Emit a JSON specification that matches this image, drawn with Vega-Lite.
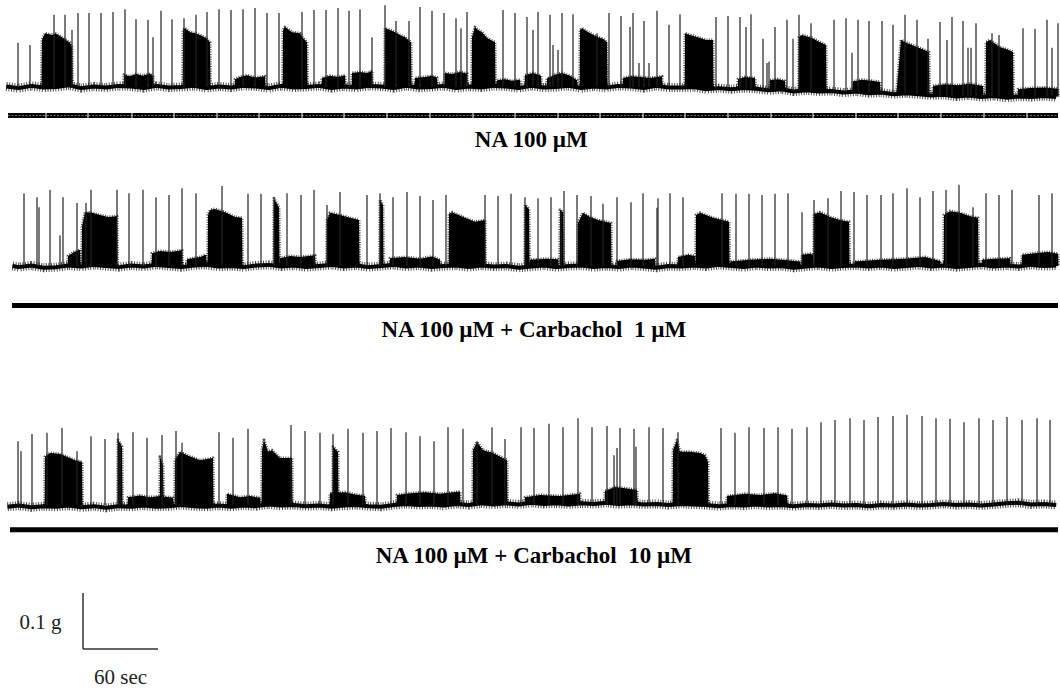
{
  "$schema": "https://vega.github.io/schema/vega-lite/v6.json",
  "padding": 0,
  "spacing": 0,
  "bounds": "flush",
  "background": "white",
  "config": {"view": {"stroke": null}, "axis": {"disable": true}},
  "datasets": {
    "baseline": [
      {"tr":1,"t":5,"v":0.001},{"tr":1,"t":15,"v":-0.002},{"tr":1,"t":25,"v":0.002},{"tr":1,"t":35,"v":-0.001},{"tr":1,"t":45,"v":0.0},{"tr":1,"t":55,"v":0.003},{"tr":1,"t":65,"v":-0.002},{"tr":1,"t":75,"v":0.001},{"tr":1,"t":85,"v":-0.001},{"tr":1,"t":95,"v":0.002},
      {"tr":1,"t":105,"v":0.001},{"tr":1,"t":115,"v":-0.002},{"tr":1,"t":125,"v":0.002},{"tr":1,"t":135,"v":-0.001},{"tr":1,"t":145,"v":0.0},{"tr":1,"t":155,"v":0.002},{"tr":1,"t":165,"v":-0.002},{"tr":1,"t":175,"v":0.001},{"tr":1,"t":185,"v":-0.001},{"tr":1,"t":195,"v":0.002},
      {"tr":1,"t":205,"v":0.001},{"tr":1,"t":215,"v":-0.002},{"tr":1,"t":225,"v":0.002},{"tr":1,"t":235,"v":-0.001},{"tr":1,"t":245,"v":0.0},{"tr":1,"t":255,"v":0.002},{"tr":1,"t":265,"v":-0.002},{"tr":1,"t":275,"v":0.001},{"tr":1,"t":285,"v":-0.001},{"tr":1,"t":295,"v":0.002},
      {"tr":1,"t":305,"v":0.001},{"tr":1,"t":315,"v":-0.002},{"tr":1,"t":325,"v":0.002},{"tr":1,"t":335,"v":-0.001},{"tr":1,"t":345,"v":0.0},{"tr":1,"t":355,"v":0.002},{"tr":1,"t":365,"v":-0.002},{"tr":1,"t":375,"v":0.001},{"tr":1,"t":385,"v":-0.001},{"tr":1,"t":395,"v":0.002},
      {"tr":1,"t":405,"v":0.001},{"tr":1,"t":415,"v":-0.002},{"tr":1,"t":425,"v":0.002},{"tr":1,"t":435,"v":-0.001},{"tr":1,"t":445,"v":0.0},{"tr":1,"t":455,"v":0.002},{"tr":1,"t":465,"v":-0.002},{"tr":1,"t":475,"v":0.001},{"tr":1,"t":485,"v":-0.001},{"tr":1,"t":495,"v":0.002},
      {"tr":1,"t":505,"v":0.001},{"tr":1,"t":515,"v":-0.002},{"tr":1,"t":525,"v":0.002},{"tr":1,"t":535,"v":-0.001},{"tr":1,"t":545,"v":-0.001},{"tr":1,"t":555,"v":0.0},{"tr":1,"t":565,"v":-0.004},{"tr":1,"t":575,"v":-0.002},{"tr":1,"t":585,"v":-0.004},{"tr":1,"t":595,"v":-0.002},
      {"tr":1,"t":605,"v":-0.003},{"tr":1,"t":615,"v":-0.006},{"tr":1,"t":625,"v":-0.004},{"tr":1,"t":635,"v":-0.008},{"tr":1,"t":645,"v":-0.006},{"tr":1,"t":655,"v":-0.008},{"tr":1,"t":665,"v":-0.007},{"tr":1,"t":675,"v":-0.01},{"tr":1,"t":685,"v":-0.008},{"tr":1,"t":695,"v":-0.011},
      {"tr":1,"t":705,"v":-0.01},{"tr":1,"t":715,"v":-0.013},{"tr":1,"t":725,"v":-0.011},{"tr":1,"t":735,"v":-0.013},{"tr":1,"t":745,"v":-0.015},{"tr":1,"t":755,"v":-0.014},{"tr":1,"t":765,"v":-0.017},{"tr":1,"t":775,"v":-0.015},{"tr":1,"t":785,"v":-0.018},{"tr":1,"t":795,"v":-0.016},
      {"tr":1,"t":805,"v":-0.019},{"tr":1,"t":815,"v":-0.017},{"tr":1,"t":825,"v":-0.018},{"tr":1,"t":835,"v":-0.016},{"tr":1,"t":845,"v":-0.018},

      {"tr":2,"t":10,"v":0.0},{"tr":2,"t":15,"v":-0.002},{"tr":2,"t":25,"v":0.001},{"tr":2,"t":35,"v":-0.003},{"tr":2,"t":45,"v":-0.002},{"tr":2,"t":55,"v":0.001},{"tr":2,"t":65,"v":-0.001},{"tr":2,"t":75,"v":0.002},{"tr":2,"t":85,"v":0.0},{"tr":2,"t":95,"v":-0.002},
      {"tr":2,"t":105,"v":0.001},{"tr":2,"t":115,"v":-0.001},{"tr":2,"t":125,"v":0.002},{"tr":2,"t":135,"v":0.0},{"tr":2,"t":145,"v":-0.002},{"tr":2,"t":155,"v":0.001},{"tr":2,"t":165,"v":0.002},{"tr":2,"t":175,"v":-0.001},{"tr":2,"t":185,"v":0.0},{"tr":2,"t":195,"v":-0.002},
      {"tr":2,"t":205,"v":0.001},{"tr":2,"t":215,"v":0.002},{"tr":2,"t":225,"v":-0.001},{"tr":2,"t":235,"v":0.001},{"tr":2,"t":245,"v":-0.002},{"tr":2,"t":255,"v":0.0},{"tr":2,"t":265,"v":0.002},{"tr":2,"t":275,"v":-0.001},{"tr":2,"t":285,"v":0.001},{"tr":2,"t":295,"v":-0.002},
      {"tr":2,"t":305,"v":0.0},{"tr":2,"t":315,"v":0.002},{"tr":2,"t":325,"v":-0.001},{"tr":2,"t":335,"v":0.001},{"tr":2,"t":345,"v":-0.002},{"tr":2,"t":355,"v":0.0},{"tr":2,"t":365,"v":0.001},{"tr":2,"t":375,"v":-0.002},{"tr":2,"t":385,"v":0.001},{"tr":2,"t":395,"v":-0.001},
      {"tr":2,"t":405,"v":0.0},{"tr":2,"t":415,"v":-0.003},{"tr":2,"t":425,"v":-0.001},{"tr":2,"t":435,"v":0.001},{"tr":2,"t":445,"v":-0.002},{"tr":2,"t":455,"v":0.0},{"tr":2,"t":465,"v":0.001},{"tr":2,"t":475,"v":-0.002},{"tr":2,"t":485,"v":0.0},{"tr":2,"t":495,"v":-0.002},
      {"tr":2,"t":505,"v":0.001},{"tr":2,"t":515,"v":-0.001},{"tr":2,"t":525,"v":-0.003},{"tr":2,"t":535,"v":0.0},{"tr":2,"t":545,"v":-0.001},{"tr":2,"t":555,"v":0.001},{"tr":2,"t":565,"v":-0.001},{"tr":2,"t":575,"v":0.002},{"tr":2,"t":585,"v":0.0},{"tr":2,"t":595,"v":-0.002},
      {"tr":2,"t":605,"v":0.001},{"tr":2,"t":615,"v":-0.001},{"tr":2,"t":625,"v":0.0},{"tr":2,"t":635,"v":-0.003},{"tr":2,"t":645,"v":-0.001},{"tr":2,"t":655,"v":0.001},{"tr":2,"t":665,"v":-0.002},{"tr":2,"t":675,"v":0.0},{"tr":2,"t":685,"v":0.001},{"tr":2,"t":695,"v":-0.001},
      {"tr":2,"t":705,"v":0.001},{"tr":2,"t":715,"v":-0.002},{"tr":2,"t":725,"v":0.0},{"tr":2,"t":735,"v":0.002},{"tr":2,"t":745,"v":-0.001},{"tr":2,"t":755,"v":0.001},{"tr":2,"t":765,"v":-0.002},{"tr":2,"t":775,"v":0.0},{"tr":2,"t":785,"v":0.002},{"tr":2,"t":795,"v":-0.001},
      {"tr":2,"t":805,"v":0.001},{"tr":2,"t":815,"v":-0.001},{"tr":2,"t":825,"v":0.002},{"tr":2,"t":835,"v":0.0},{"tr":2,"t":845,"v":0.001},

      {"tr":3,"t":6,"v":-0.003},{"tr":3,"t":15,"v":-0.001},{"tr":3,"t":25,"v":-0.004},{"tr":3,"t":35,"v":-0.002},{"tr":3,"t":45,"v":-0.003},{"tr":3,"t":55,"v":-0.001},{"tr":3,"t":65,"v":-0.004},{"tr":3,"t":75,"v":-0.002},{"tr":3,"t":85,"v":-0.005},{"tr":3,"t":95,"v":-0.002},
      {"tr":3,"t":105,"v":-0.003},{"tr":3,"t":115,"v":-0.001},{"tr":3,"t":125,"v":-0.003},{"tr":3,"t":135,"v":-0.002},{"tr":3,"t":145,"v":0.0},{"tr":3,"t":155,"v":-0.002},{"tr":3,"t":165,"v":-0.003},{"tr":3,"t":175,"v":-0.001},{"tr":3,"t":185,"v":-0.003},{"tr":3,"t":195,"v":-0.001},
      {"tr":3,"t":205,"v":-0.002},{"tr":3,"t":215,"v":0.001},{"tr":3,"t":225,"v":-0.001},{"tr":3,"t":235,"v":0.0},{"tr":3,"t":245,"v":-0.002},{"tr":3,"t":255,"v":-0.001},{"tr":3,"t":265,"v":-0.003},{"tr":3,"t":275,"v":-0.001},{"tr":3,"t":285,"v":0.0},{"tr":3,"t":295,"v":-0.002},
      {"tr":3,"t":305,"v":-0.003},{"tr":3,"t":315,"v":0.0},{"tr":3,"t":325,"v":0.002},{"tr":3,"t":335,"v":0.0},{"tr":3,"t":345,"v":0.001},{"tr":3,"t":355,"v":-0.001},{"tr":3,"t":365,"v":0.002},{"tr":3,"t":375,"v":0.0},{"tr":3,"t":385,"v":0.003},{"tr":3,"t":395,"v":0.001},
      {"tr":3,"t":405,"v":0.003},{"tr":3,"t":415,"v":0.001},{"tr":3,"t":425,"v":0.004},{"tr":3,"t":435,"v":0.002},{"tr":3,"t":445,"v":0.003},{"tr":3,"t":455,"v":0.001},{"tr":3,"t":465,"v":0.003},{"tr":3,"t":475,"v":0.002},{"tr":3,"t":485,"v":0.004},{"tr":3,"t":495,"v":0.002},
      {"tr":3,"t":505,"v":0.003},{"tr":3,"t":515,"v":0.001},{"tr":3,"t":525,"v":0.002},{"tr":3,"t":535,"v":0.0},{"tr":3,"t":545,"v":0.002},{"tr":3,"t":555,"v":0.001},{"tr":3,"t":565,"v":0.0},{"tr":3,"t":575,"v":-0.002},{"tr":3,"t":585,"v":0.0},{"tr":3,"t":595,"v":-0.001},
      {"tr":3,"t":605,"v":0.001},{"tr":3,"t":615,"v":-0.001},{"tr":3,"t":625,"v":0.0},{"tr":3,"t":635,"v":-0.002},{"tr":3,"t":645,"v":0.0},{"tr":3,"t":655,"v":-0.001},{"tr":3,"t":665,"v":0.001},{"tr":3,"t":675,"v":-0.001},{"tr":3,"t":685,"v":0.0},{"tr":3,"t":695,"v":-0.002},
      {"tr":3,"t":705,"v":0.0},{"tr":3,"t":715,"v":-0.001},{"tr":3,"t":725,"v":0.001},{"tr":3,"t":735,"v":-0.001},{"tr":3,"t":745,"v":0.0},{"tr":3,"t":755,"v":0.002},{"tr":3,"t":765,"v":0.0},{"tr":3,"t":775,"v":0.001},{"tr":3,"t":785,"v":-0.001},{"tr":3,"t":795,"v":0.001},
      {"tr":3,"t":805,"v":0.003},{"tr":3,"t":815,"v":0.004},{"tr":3,"t":825,"v":0.001},{"tr":3,"t":835,"v":0.002},{"tr":3,"t":845,"v":0.0}
    ],
    "bursts": [
      {"tr":1,"id":"a1","t":33.2,"lo":0,"hi":0},{"tr":1,"id":"a1","t":33.6,"lo":0,"hi":0.084},{"tr":1,"id":"a1","t":36,"lo":0,"hi":0.096},{"tr":1,"id":"a1","t":41.6,"lo":0,"hi":0.093},{"tr":1,"id":"a1","t":44.8,"lo":0,"hi":0.095},{"tr":1,"id":"a1","t":48,"lo":0,"hi":0.091},{"tr":1,"id":"a1","t":52.8,"lo":0,"hi":0.084},{"tr":1,"id":"a1","t":56,"lo":0,"hi":0.079},{"tr":1,"id":"a1","t":57.6,"lo":0,"hi":0.071},{"tr":1,"id":"a1","t":58,"lo":0,"hi":0},
      {"tr":1,"id":"a2","t":99,"lo":0,"hi":0},{"tr":1,"id":"a2","t":99.2,"lo":0,"hi":0.022},{"tr":1,"id":"a2","t":104,"lo":0,"hi":0.019},{"tr":1,"id":"a2","t":108.8,"lo":0,"hi":0.023},{"tr":1,"id":"a2","t":114.4,"lo":0,"hi":0.02},{"tr":1,"id":"a2","t":120,"lo":0,"hi":0.024},{"tr":1,"id":"a2","t":122.4,"lo":0,"hi":0.019},{"tr":1,"id":"a2","t":122.8,"lo":0,"hi":0},
      {"tr":1,"id":"a3","t":146.2,"lo":0,"hi":0},{"tr":1,"id":"a3","t":146.4,"lo":0,"hi":0.102},{"tr":1,"id":"a3","t":148,"lo":0,"hi":0.105},{"tr":1,"id":"a3","t":152,"lo":0,"hi":0.098},{"tr":1,"id":"a3","t":156,"lo":0,"hi":0.096},{"tr":1,"id":"a3","t":160,"lo":0,"hi":0.093},{"tr":1,"id":"a3","t":164.8,"lo":0,"hi":0.0875},{"tr":1,"id":"a3","t":168,"lo":0,"hi":0.08},{"tr":1,"id":"a3","t":168.4,"lo":0,"hi":0},
      {"tr":1,"id":"a4","t":187.8,"lo":0,"hi":0},{"tr":1,"id":"a4","t":188,"lo":0,"hi":0.014},{"tr":1,"id":"a4","t":192,"lo":0,"hi":0.018},{"tr":1,"id":"a4","t":197.6,"lo":0,"hi":0.021},{"tr":1,"id":"a4","t":204,"lo":0,"hi":0.017},{"tr":1,"id":"a4","t":212,"lo":0,"hi":0.019},{"tr":1,"id":"a4","t":212.4,"lo":0,"hi":0},
      {"tr":1,"id":"a5","t":226.2,"lo":0,"hi":0},{"tr":1,"id":"a5","t":226.4,"lo":0,"hi":0.102},{"tr":1,"id":"a5","t":228,"lo":0,"hi":0.107},{"tr":1,"id":"a5","t":233.6,"lo":0,"hi":0.098},{"tr":1,"id":"a5","t":240,"lo":0,"hi":0.096},{"tr":1,"id":"a5","t":242.4,"lo":0,"hi":0.0875},{"tr":1,"id":"a5","t":245.6,"lo":0,"hi":0.08},{"tr":1,"id":"a5","t":246,"lo":0,"hi":0},
      {"tr":1,"id":"a6","t":257.4,"lo":0,"hi":0},{"tr":1,"id":"a6","t":257.6,"lo":0,"hi":0.016},{"tr":1,"id":"a6","t":264,"lo":0,"hi":0.02},{"tr":1,"id":"a6","t":270.4,"lo":0,"hi":0.018},{"tr":1,"id":"a6","t":276,"lo":0,"hi":0.021},{"tr":1,"id":"a6","t":276.4,"lo":0,"hi":0},
      {"tr":1,"id":"a7","t":281.4,"lo":0,"hi":0},{"tr":1,"id":"a7","t":281.6,"lo":0,"hi":0.025},{"tr":1,"id":"a7","t":288,"lo":0,"hi":0.027},{"tr":1,"id":"a7","t":293.6,"lo":0,"hi":0.025},{"tr":1,"id":"a7","t":297.6,"lo":0,"hi":0.029},{"tr":1,"id":"a7","t":298,"lo":0,"hi":0},
      {"tr":1,"id":"a8","t":307.8,"lo":0,"hi":0},{"tr":1,"id":"a8","t":308,"lo":0,"hi":0.105},{"tr":1,"id":"a8","t":312,"lo":0,"hi":0.102},{"tr":1,"id":"a8","t":316,"lo":0,"hi":0.098},{"tr":1,"id":"a8","t":320,"lo":0,"hi":0.093},{"tr":1,"id":"a8","t":324,"lo":0,"hi":0.089},{"tr":1,"id":"a8","t":328.8,"lo":0,"hi":0.08},{"tr":1,"id":"a8","t":329.2,"lo":0,"hi":0},
      {"tr":1,"id":"a9","t":331.8,"lo":0,"hi":0},{"tr":1,"id":"a9","t":332,"lo":0,"hi":0.016},{"tr":1,"id":"a9","t":340,"lo":0,"hi":0.018},{"tr":1,"id":"a9","t":345.6,"lo":0,"hi":0.02},{"tr":1,"id":"a9","t":349.6,"lo":0,"hi":0.017},{"tr":1,"id":"a9","t":350,"lo":0,"hi":0},
      {"tr":1,"id":"a10","t":355.8,"lo":0,"hi":0},{"tr":1,"id":"a10","t":356,"lo":0,"hi":0.025},{"tr":1,"id":"a10","t":361.6,"lo":0,"hi":0.023},{"tr":1,"id":"a10","t":368,"lo":0,"hi":0.027},{"tr":1,"id":"a10","t":373.6,"lo":0,"hi":0.024},{"tr":1,"id":"a10","t":374,"lo":0,"hi":0},
      {"tr":1,"id":"a11","t":377.4,"lo":0,"hi":0},{"tr":1,"id":"a11","t":377.6,"lo":0,"hi":0.089},{"tr":1,"id":"a11","t":380,"lo":0,"hi":0.107},{"tr":1,"id":"a11","t":382.4,"lo":0,"hi":0.102},{"tr":1,"id":"a11","t":385.6,"lo":0,"hi":0.098},{"tr":1,"id":"a11","t":389.6,"lo":0,"hi":0.0875},{"tr":1,"id":"a11","t":396,"lo":0,"hi":0.08},{"tr":1,"id":"a11","t":396.4,"lo":0,"hi":0},
      {"tr":1,"id":"a12","t":397.4,"lo":0,"hi":0},{"tr":1,"id":"a12","t":397.6,"lo":0,"hi":0.012},{"tr":1,"id":"a12","t":404,"lo":0,"hi":0.014},{"tr":1,"id":"a12","t":409.6,"lo":0,"hi":0.011},{"tr":1,"id":"a12","t":416,"lo":0,"hi":0.013},{"tr":1,"id":"a12","t":416.4,"lo":0,"hi":0},
      {"tr":1,"id":"a13","t":419.8,"lo":0,"hi":0},{"tr":1,"id":"a13","t":420,"lo":0,"hi":0.021},{"tr":1,"id":"a13","t":426.4,"lo":0,"hi":0.025},{"tr":1,"id":"a13","t":432.8,"lo":0,"hi":0.02},{"tr":1,"id":"a13","t":433.2,"lo":0,"hi":0},
      {"tr":1,"id":"a14","t":437.4,"lo":0,"hi":0},{"tr":1,"id":"a14","t":437.6,"lo":0,"hi":0.015},{"tr":1,"id":"a14","t":444,"lo":0,"hi":0.022},{"tr":1,"id":"a14","t":449.6,"lo":0,"hi":0.025},{"tr":1,"id":"a14","t":456,"lo":0,"hi":0.02},{"tr":1,"id":"a14","t":461.6,"lo":0,"hi":0.012},{"tr":1,"id":"a14","t":462,"lo":0,"hi":0},
      {"tr":1,"id":"a15","t":463.8,"lo":0,"hi":0},{"tr":1,"id":"a15","t":464,"lo":0,"hi":0.102},{"tr":1,"id":"a15","t":465.6,"lo":0,"hi":0.105},{"tr":1,"id":"a15","t":472,"lo":0,"hi":0.096},{"tr":1,"id":"a15","t":478.4,"lo":0,"hi":0.089},{"tr":1,"id":"a15","t":482.4,"lo":0,"hi":0.086},{"tr":1,"id":"a15","t":485.6,"lo":0,"hi":0.08},{"tr":1,"id":"a15","t":486,"lo":0,"hi":0},
      {"tr":1,"id":"a16","t":498.2,"lo":0,"hi":0},{"tr":1,"id":"a16","t":498.4,"lo":0,"hi":0.016},{"tr":1,"id":"a16","t":505.6,"lo":0,"hi":0.019},{"tr":1,"id":"a16","t":512,"lo":0,"hi":0.018},{"tr":1,"id":"a16","t":520,"lo":0,"hi":0.016},{"tr":1,"id":"a16","t":529.6,"lo":0,"hi":0.019},{"tr":1,"id":"a16","t":530,"lo":0,"hi":0},
      {"tr":1,"id":"a17","t":547.8,"lo":-0.001,"hi":-0.001},{"tr":1,"id":"a17","t":548,"lo":-0.001,"hi":0.096},{"tr":1,"id":"a17","t":552,"lo":-0.001,"hi":0.093},{"tr":1,"id":"a17","t":560,"lo":-0.002,"hi":0.0875},{"tr":1,"id":"a17","t":564.8,"lo":-0.002,"hi":0.084},{"tr":1,"id":"a17","t":570.4,"lo":-0.003,"hi":0.084},{"tr":1,"id":"a17","t":570.8,"lo":-0.003,"hi":-0.003},
      {"tr":1,"id":"a18","t":590.2,"lo":-0.004,"hi":-0.004},{"tr":1,"id":"a18","t":590.4,"lo":-0.004,"hi":0.014},{"tr":1,"id":"a18","t":596,"lo":-0.004,"hi":0.018},{"tr":1,"id":"a18","t":604,"lo":-0.004,"hi":0.016},{"tr":1,"id":"a18","t":604.4,"lo":-0.004,"hi":-0.004},
      {"tr":1,"id":"a19","t":615.8,"lo":-0.005,"hi":-0.005},{"tr":1,"id":"a19","t":616,"lo":-0.005,"hi":0.012},{"tr":1,"id":"a19","t":622.4,"lo":-0.005,"hi":0.014},{"tr":1,"id":"a19","t":628,"lo":-0.006,"hi":0.011},{"tr":1,"id":"a19","t":628.4,"lo":-0.006,"hi":-0.006},
      {"tr":1,"id":"a20","t":639,"lo":-0.007,"hi":-0.007},{"tr":1,"id":"a20","t":639.2,"lo":-0.007,"hi":0.089},{"tr":1,"id":"a20","t":641.6,"lo":-0.007,"hi":0.093},{"tr":1,"id":"a20","t":649.6,"lo":-0.007,"hi":0.0875},{"tr":1,"id":"a20","t":656,"lo":-0.008,"hi":0.08},{"tr":1,"id":"a20","t":660.8,"lo":-0.008,"hi":0.075},{"tr":1,"id":"a20","t":661.2,"lo":-0.008,"hi":-0.008},
      {"tr":1,"id":"a21","t":682.2,"lo":-0.009,"hi":-0.009},{"tr":1,"id":"a21","t":682.4,"lo":-0.009,"hi":0.01},{"tr":1,"id":"a21","t":689.6,"lo":-0.01,"hi":0.013},{"tr":1,"id":"a21","t":697.6,"lo":-0.01,"hi":0.011},{"tr":1,"id":"a21","t":704,"lo":-0.011,"hi":0.009},{"tr":1,"id":"a21","t":704.4,"lo":-0.011,"hi":-0.011},
      {"tr":1,"id":"a22","t":717.4,"lo":-0.012,"hi":-0.012},{"tr":1,"id":"a22","t":717.6,"lo":-0.012,"hi":0.0},{"tr":1,"id":"a22","t":720.8,"lo":-0.012,"hi":0.084},{"tr":1,"id":"a22","t":724,"lo":-0.012,"hi":0.08},{"tr":1,"id":"a22","t":732,"lo":-0.013,"hi":0.073},{"tr":1,"id":"a22","t":737.6,"lo":-0.013,"hi":0.068},{"tr":1,"id":"a22","t":743.2,"lo":-0.014,"hi":0.0625},{"tr":1,"id":"a22","t":743.6,"lo":-0.014,"hi":-0.014},
      {"tr":1,"id":"a23","t":746.2,"lo":-0.015,"hi":-0.015},{"tr":1,"id":"a23","t":746.4,"lo":-0.015,"hi":0.002},{"tr":1,"id":"a23","t":756,"lo":-0.015,"hi":0.005},{"tr":1,"id":"a23","t":766.4,"lo":-0.016,"hi":0.003},{"tr":1,"id":"a23","t":776,"lo":-0.016,"hi":0.006},{"tr":1,"id":"a23","t":786.4,"lo":-0.017,"hi":0.002},{"tr":1,"id":"a23","t":786.8,"lo":-0.017,"hi":-0.017},
      {"tr":1,"id":"a24","t":788.6,"lo":-0.018,"hi":-0.018},{"tr":1,"id":"a24","t":788.8,"lo":-0.018,"hi":0.08},{"tr":1,"id":"a24","t":792,"lo":-0.018,"hi":0.084},{"tr":1,"id":"a24","t":800,"lo":-0.018,"hi":0.071},{"tr":1,"id":"a24","t":804.8,"lo":-0.018,"hi":0.068},{"tr":1,"id":"a24","t":810.4,"lo":-0.018,"hi":0.0625},{"tr":1,"id":"a24","t":810.8,"lo":-0.018,"hi":-0.018},
      {"tr":1,"id":"a25","t":814.2,"lo":-0.017,"hi":-0.017},{"tr":1,"id":"a25","t":814.4,"lo":-0.017,"hi":-0.004},{"tr":1,"id":"a25","t":824,"lo":-0.017,"hi":-0.002},{"tr":1,"id":"a25","t":836,"lo":-0.017,"hi":-0.001},{"tr":1,"id":"a25","t":846.4,"lo":-0.017,"hi":-0.003},{"tr":1,"id":"a25","t":846.8,"lo":-0.017,"hi":-0.017},

      {"tr":2,"id":"b1","t":54.2,"lo":0,"hi":0},{"tr":2,"id":"b1","t":54.4,"lo":0,"hi":0.018},{"tr":2,"id":"b1","t":59.2,"lo":0,"hi":0.025},{"tr":2,"id":"b1","t":64,"lo":0,"hi":0.029},{"tr":2,"id":"b1","t":64.4,"lo":0,"hi":0},
      {"tr":2,"id":"b2","t":65.4,"lo":0,"hi":0},{"tr":2,"id":"b2","t":65.6,"lo":0,"hi":0.07},{"tr":2,"id":"b2","t":68,"lo":0,"hi":0.096},{"tr":2,"id":"b2","t":73.6,"lo":0,"hi":0.095},{"tr":2,"id":"b2","t":80,"lo":0,"hi":0.091},{"tr":2,"id":"b2","t":86.4,"lo":0,"hi":0.0875},{"tr":2,"id":"b2","t":93.6,"lo":0,"hi":0.089},{"tr":2,"id":"b2","t":94,"lo":0,"hi":0},
      {"tr":2,"id":"b3","t":121.4,"lo":0,"hi":0},{"tr":2,"id":"b3","t":121.6,"lo":0,"hi":0.023},{"tr":2,"id":"b3","t":128,"lo":0,"hi":0.027},{"tr":2,"id":"b3","t":136,"lo":0,"hi":0.025},{"tr":2,"id":"b3","t":145.6,"lo":0,"hi":0.028},{"tr":2,"id":"b3","t":146,"lo":0,"hi":0},
      {"tr":2,"id":"b4","t":149.4,"lo":0,"hi":0},{"tr":2,"id":"b4","t":149.6,"lo":0,"hi":0.012},{"tr":2,"id":"b4","t":160,"lo":0,"hi":0.016},{"tr":2,"id":"b4","t":164.8,"lo":0,"hi":0.02},{"tr":2,"id":"b4","t":165.2,"lo":0,"hi":0},
      {"tr":2,"id":"b5","t":166.2,"lo":0,"hi":0},{"tr":2,"id":"b5","t":166.4,"lo":0,"hi":0.091},{"tr":2,"id":"b5","t":168,"lo":0,"hi":0.1},{"tr":2,"id":"b5","t":172,"lo":0,"hi":0.102},{"tr":2,"id":"b5","t":180,"lo":0,"hi":0.096},{"tr":2,"id":"b5","t":188,"lo":0,"hi":0.0875},{"tr":2,"id":"b5","t":193.6,"lo":0,"hi":0.086},{"tr":2,"id":"b5","t":194,"lo":0,"hi":0},
      {"tr":2,"id":"b6","t":219,"lo":0,"hi":0},{"tr":2,"id":"b6","t":219.2,"lo":0,"hi":0.121},{"tr":2,"id":"b6","t":220.8,"lo":0,"hi":0.114},{"tr":2,"id":"b6","t":223.2,"lo":0,"hi":0.105},{"tr":2,"id":"b6","t":223.6,"lo":0,"hi":0},
      {"tr":2,"id":"b7","t":223.8,"lo":0,"hi":0},{"tr":2,"id":"b7","t":224,"lo":0,"hi":0.014},{"tr":2,"id":"b7","t":232,"lo":0,"hi":0.018},{"tr":2,"id":"b7","t":240,"lo":0,"hi":0.016},{"tr":2,"id":"b7","t":252,"lo":0,"hi":0.019},{"tr":2,"id":"b7","t":252.4,"lo":0,"hi":0},
      {"tr":2,"id":"b8","t":261.4,"lo":0,"hi":0},{"tr":2,"id":"b8","t":261.6,"lo":0,"hi":0.082},{"tr":2,"id":"b8","t":264,"lo":0,"hi":0.095},{"tr":2,"id":"b8","t":272,"lo":0,"hi":0.091},{"tr":2,"id":"b8","t":280,"lo":0,"hi":0.086},{"tr":2,"id":"b8","t":287.2,"lo":0,"hi":0.082},{"tr":2,"id":"b8","t":287.6,"lo":0,"hi":0},
      {"tr":2,"id":"b9","t":303.8,"lo":0,"hi":0},{"tr":2,"id":"b9","t":304,"lo":0,"hi":0.118},{"tr":2,"id":"b9","t":306.4,"lo":0,"hi":0.109},{"tr":2,"id":"b9","t":306.8,"lo":0,"hi":0},
      {"tr":2,"id":"b10","t":311.8,"lo":0,"hi":0},{"tr":2,"id":"b10","t":312,"lo":0,"hi":0.014},{"tr":2,"id":"b10","t":324,"lo":0,"hi":0.016},{"tr":2,"id":"b10","t":336,"lo":0,"hi":0.013},{"tr":2,"id":"b10","t":345.6,"lo":0,"hi":0.017},{"tr":2,"id":"b10","t":352,"lo":0,"hi":0.011},{"tr":2,"id":"b10","t":352.4,"lo":0,"hi":0},
      {"tr":2,"id":"b11","t":359,"lo":0,"hi":0},{"tr":2,"id":"b11","t":359.2,"lo":0,"hi":0.093},{"tr":2,"id":"b11","t":361.6,"lo":0,"hi":0.096},{"tr":2,"id":"b11","t":372,"lo":0,"hi":0.086},{"tr":2,"id":"b11","t":380,"lo":0,"hi":0.079},{"tr":2,"id":"b11","t":388,"lo":0,"hi":0.082},{"tr":2,"id":"b11","t":388.4,"lo":0,"hi":0},
      {"tr":2,"id":"b12","t":419.8,"lo":0,"hi":0},{"tr":2,"id":"b12","t":420,"lo":0,"hi":0.109},{"tr":2,"id":"b12","t":423.2,"lo":0,"hi":0.102},{"tr":2,"id":"b12","t":423.6,"lo":0,"hi":0},
      {"tr":2,"id":"b13","t":423.8,"lo":0,"hi":0},{"tr":2,"id":"b13","t":424,"lo":0,"hi":0.011},{"tr":2,"id":"b13","t":436,"lo":0,"hi":0.013},{"tr":2,"id":"b13","t":446.4,"lo":0,"hi":0.012},{"tr":2,"id":"b13","t":446.8,"lo":0,"hi":0},
      {"tr":2,"id":"b14","t":447.8,"lo":0,"hi":0},{"tr":2,"id":"b14","t":448,"lo":0,"hi":0.1},{"tr":2,"id":"b14","t":450.4,"lo":0,"hi":0.096},{"tr":2,"id":"b14","t":450.8,"lo":0,"hi":0},
      {"tr":2,"id":"b15","t":462.2,"lo":0,"hi":0},{"tr":2,"id":"b15","t":462.4,"lo":0,"hi":0.077},{"tr":2,"id":"b15","t":466.4,"lo":0,"hi":0.095},{"tr":2,"id":"b15","t":472,"lo":0,"hi":0.0875},{"tr":2,"id":"b15","t":478.4,"lo":0,"hi":0.082},{"tr":2,"id":"b15","t":488.8,"lo":0,"hi":0.077},{"tr":2,"id":"b15","t":489.2,"lo":0,"hi":0},
      {"tr":2,"id":"b16","t":493.4,"lo":0,"hi":0},{"tr":2,"id":"b16","t":493.6,"lo":0,"hi":0.009},{"tr":2,"id":"b16","t":504,"lo":0,"hi":0.012},{"tr":2,"id":"b16","t":516,"lo":0,"hi":0.011},{"tr":2,"id":"b16","t":524,"lo":0,"hi":0.013},{"tr":2,"id":"b16","t":524.4,"lo":0,"hi":0},
      {"tr":2,"id":"b17","t":542.2,"lo":0,"hi":0},{"tr":2,"id":"b17","t":542.4,"lo":0,"hi":0.016},{"tr":2,"id":"b17","t":550.4,"lo":0,"hi":0.02},{"tr":2,"id":"b17","t":556,"lo":0,"hi":0.018},{"tr":2,"id":"b17","t":556.4,"lo":0,"hi":0},
      {"tr":2,"id":"b18","t":556.6,"lo":0,"hi":0},{"tr":2,"id":"b18","t":556.8,"lo":0,"hi":0.091},{"tr":2,"id":"b18","t":560,"lo":0,"hi":0.095},{"tr":2,"id":"b18","t":570.4,"lo":0,"hi":0.086},{"tr":2,"id":"b18","t":577.6,"lo":0,"hi":0.082},{"tr":2,"id":"b18","t":583.2,"lo":0,"hi":0.079},{"tr":2,"id":"b18","t":583.6,"lo":0,"hi":0},
      {"tr":2,"id":"b19","t":584,"lo":0,"hi":0},{"tr":2,"id":"b19","t":584.4,"lo":0,"hi":0.008},{"tr":2,"id":"b19","t":600,"lo":0,"hi":0.011},{"tr":2,"id":"b19","t":616,"lo":0,"hi":0.013},{"tr":2,"id":"b19","t":632,"lo":0,"hi":0.01},{"tr":2,"id":"b19","t":640,"lo":0,"hi":0.008},{"tr":2,"id":"b19","t":640.4,"lo":0,"hi":0},
      {"tr":2,"id":"b20","t":641.4,"lo":0,"hi":0},{"tr":2,"id":"b20","t":641.6,"lo":0,"hi":0.02},{"tr":2,"id":"b20","t":648,"lo":0,"hi":0.022},{"tr":2,"id":"b20","t":650.4,"lo":0,"hi":0.02},{"tr":2,"id":"b20","t":650.8,"lo":0,"hi":0},
      {"tr":2,"id":"b21","t":651,"lo":0,"hi":0},{"tr":2,"id":"b21","t":651.2,"lo":0,"hi":0.093},{"tr":2,"id":"b21","t":656,"lo":0,"hi":0.096},{"tr":2,"id":"b21","t":664,"lo":0,"hi":0.0875},{"tr":2,"id":"b21","t":672,"lo":0,"hi":0.082},{"tr":2,"id":"b21","t":679.2,"lo":0,"hi":0.079},{"tr":2,"id":"b21","t":679.6,"lo":0,"hi":0},
      {"tr":2,"id":"b22","t":683.8,"lo":0,"hi":0},{"tr":2,"id":"b22","t":684,"lo":0,"hi":0.008},{"tr":2,"id":"b22","t":704,"lo":0,"hi":0.011},{"tr":2,"id":"b22","t":724,"lo":0,"hi":0.013},{"tr":2,"id":"b22","t":740,"lo":0,"hi":0.016},{"tr":2,"id":"b22","t":752,"lo":0,"hi":0.009},{"tr":2,"id":"b22","t":752.4,"lo":0,"hi":0},
      {"tr":2,"id":"b23","t":755,"lo":0,"hi":0},{"tr":2,"id":"b23","t":755.2,"lo":0,"hi":0.091},{"tr":2,"id":"b23","t":760,"lo":0,"hi":0.098},{"tr":2,"id":"b23","t":768,"lo":0,"hi":0.095},{"tr":2,"id":"b23","t":776,"lo":0,"hi":0.089},{"tr":2,"id":"b23","t":782.4,"lo":0,"hi":0.086},{"tr":2,"id":"b23","t":782.8,"lo":0,"hi":0},
      {"tr":2,"id":"b24","t":785.4,"lo":0,"hi":0},{"tr":2,"id":"b24","t":785.6,"lo":0,"hi":0.011},{"tr":2,"id":"b24","t":796,"lo":0,"hi":0.013},{"tr":2,"id":"b24","t":808,"lo":0,"hi":0.014},{"tr":2,"id":"b24","t":808.4,"lo":0,"hi":0},
      {"tr":2,"id":"b25","t":817.4,"lo":0,"hi":0},{"tr":2,"id":"b25","t":817.6,"lo":0,"hi":0.02},{"tr":2,"id":"b25","t":828,"lo":0,"hi":0.023},{"tr":2,"id":"b25","t":838.4,"lo":0,"hi":0.025},{"tr":2,"id":"b25","t":846.4,"lo":0,"hi":0.022},{"tr":2,"id":"b25","t":846.8,"lo":0,"hi":0},

      {"tr":3,"id":"c1","t":35.8,"lo":0,"hi":0},{"tr":3,"id":"c1","t":36,"lo":0,"hi":0.086},{"tr":3,"id":"c1","t":40,"lo":0,"hi":0.093},{"tr":3,"id":"c1","t":48,"lo":0,"hi":0.091},{"tr":3,"id":"c1","t":53.6,"lo":0,"hi":0.086},{"tr":3,"id":"c1","t":60,"lo":0,"hi":0.08},{"tr":3,"id":"c1","t":65.6,"lo":0,"hi":0.077},{"tr":3,"id":"c1","t":66,"lo":0,"hi":0},
      {"tr":3,"id":"c2","t":94.2,"lo":0,"hi":0},{"tr":3,"id":"c2","t":94.4,"lo":0,"hi":0.116},{"tr":3,"id":"c2","t":97.6,"lo":0,"hi":0.104},{"tr":3,"id":"c2","t":98,"lo":0,"hi":0},
      {"tr":3,"id":"c3","t":102.2,"lo":0,"hi":0},{"tr":3,"id":"c3","t":102.4,"lo":0,"hi":0.014},{"tr":3,"id":"c3","t":112,"lo":0,"hi":0.017},{"tr":3,"id":"c3","t":120,"lo":0,"hi":0.014},{"tr":3,"id":"c3","t":128,"lo":0,"hi":0.016},{"tr":3,"id":"c3","t":138.4,"lo":0,"hi":0.013},{"tr":3,"id":"c3","t":138.8,"lo":0,"hi":0},
      {"tr":3,"id":"c4","t":127.8,"lo":0,"hi":0},{"tr":3,"id":"c4","t":128,"lo":0,"hi":0.086},{"tr":3,"id":"c4","t":130.4,"lo":0,"hi":0.07},{"tr":3,"id":"c4","t":131,"lo":0,"hi":0},
      {"tr":3,"id":"c5","t":139.8,"lo":0,"hi":0},{"tr":3,"id":"c5","t":140,"lo":0,"hi":0.08},{"tr":3,"id":"c5","t":144,"lo":0,"hi":0.095},{"tr":3,"id":"c5","t":149.6,"lo":0,"hi":0.089},{"tr":3,"id":"c5","t":160,"lo":0,"hi":0.08},{"tr":3,"id":"c5","t":170.4,"lo":0,"hi":0.084},{"tr":3,"id":"c5","t":170.8,"lo":0,"hi":0},
      {"tr":3,"id":"c6","t":181.4,"lo":0,"hi":0},{"tr":3,"id":"c6","t":181.6,"lo":0,"hi":0.02},{"tr":3,"id":"c6","t":192,"lo":0,"hi":0.014},{"tr":3,"id":"c6","t":200,"lo":0,"hi":0.016},{"tr":3,"id":"c6","t":208,"lo":0,"hi":0.013},{"tr":3,"id":"c6","t":208.4,"lo":0,"hi":0},
      {"tr":3,"id":"c7","t":209.4,"lo":0,"hi":0},{"tr":3,"id":"c7","t":209.6,"lo":0,"hi":0.098},{"tr":3,"id":"c7","t":211.2,"lo":0,"hi":0.116},{"tr":3,"id":"c7","t":214.4,"lo":0,"hi":0.095},{"tr":3,"id":"c7","t":217.6,"lo":0,"hi":0.098},{"tr":3,"id":"c7","t":224,"lo":0,"hi":0.084},{"tr":3,"id":"c7","t":233.6,"lo":0,"hi":0.084},{"tr":3,"id":"c7","t":234,"lo":0,"hi":0},
      {"tr":3,"id":"c8","t":263.8,"lo":0,"hi":0},{"tr":3,"id":"c8","t":264,"lo":0,"hi":0.021},{"tr":3,"id":"c8","t":276,"lo":0,"hi":0.023},{"tr":3,"id":"c8","t":284,"lo":0,"hi":0.019},{"tr":3,"id":"c8","t":292,"lo":0,"hi":0.016},{"tr":3,"id":"c8","t":292.4,"lo":0,"hi":0},
      {"tr":3,"id":"c9","t":266.2,"lo":0,"hi":0},{"tr":3,"id":"c9","t":266.4,"lo":0,"hi":0.104},{"tr":3,"id":"c9","t":270.4,"lo":0,"hi":0.095},{"tr":3,"id":"c9","t":270.8,"lo":0,"hi":0},
      {"tr":3,"id":"c10","t":317.4,"lo":0,"hi":0},{"tr":3,"id":"c10","t":317.6,"lo":0,"hi":0.018},{"tr":3,"id":"c10","t":328,"lo":0,"hi":0.021},{"tr":3,"id":"c10","t":340,"lo":0,"hi":0.023},{"tr":3,"id":"c10","t":352,"lo":0,"hi":0.02},{"tr":3,"id":"c10","t":368,"lo":0,"hi":0.024},{"tr":3,"id":"c10","t":368.4,"lo":0,"hi":0},
      {"tr":3,"id":"c11","t":378.2,"lo":0,"hi":0},{"tr":3,"id":"c11","t":378.4,"lo":0,"hi":0.098},{"tr":3,"id":"c11","t":381.6,"lo":0,"hi":0.1125},{"tr":3,"id":"c11","t":386.4,"lo":0,"hi":0.098},{"tr":3,"id":"c11","t":394.4,"lo":0,"hi":0.093},{"tr":3,"id":"c11","t":405.6,"lo":0,"hi":0.08},{"tr":3,"id":"c11","t":406,"lo":0,"hi":0},
      {"tr":3,"id":"c12","t":419.8,"lo":0,"hi":0},{"tr":3,"id":"c12","t":420,"lo":0,"hi":0.014},{"tr":3,"id":"c12","t":432,"lo":0,"hi":0.018},{"tr":3,"id":"c12","t":448,"lo":0,"hi":0.016},{"tr":3,"id":"c12","t":464,"lo":0,"hi":0.02},{"tr":3,"id":"c12","t":464.4,"lo":0,"hi":0},
      {"tr":3,"id":"c13","t":483.8,"lo":0,"hi":0},{"tr":3,"id":"c13","t":484,"lo":0,"hi":0.025},{"tr":3,"id":"c13","t":492,"lo":0,"hi":0.032},{"tr":3,"id":"c13","t":500,"lo":0,"hi":0.03},{"tr":3,"id":"c13","t":509.6,"lo":0,"hi":0.027},{"tr":3,"id":"c13","t":510,"lo":0,"hi":0},
      {"tr":3,"id":"c15","t":538.2,"lo":0,"hi":0},{"tr":3,"id":"c15","t":538.4,"lo":0,"hi":0.098},{"tr":3,"id":"c15","t":541.6,"lo":0,"hi":0.116},{"tr":3,"id":"c15","t":544,"lo":0,"hi":0.095},{"tr":3,"id":"c15","t":552,"lo":0,"hi":0.095},{"tr":3,"id":"c15","t":560,"lo":0,"hi":0.093},{"tr":3,"id":"c15","t":564,"lo":0,"hi":0.089},{"tr":3,"id":"c15","t":566.4,"lo":0,"hi":0.077},{"tr":3,"id":"c15","t":566.8,"lo":0,"hi":0},
      {"tr":3,"id":"c16","t":581.4,"lo":0,"hi":0},{"tr":3,"id":"c16","t":581.6,"lo":0,"hi":0.016},{"tr":3,"id":"c16","t":596,"lo":0,"hi":0.02},{"tr":3,"id":"c16","t":608,"lo":0,"hi":0.018},{"tr":3,"id":"c16","t":620,"lo":0,"hi":0.021},{"tr":3,"id":"c16","t":629.6,"lo":0,"hi":0.017},{"tr":3,"id":"c16","t":630,"lo":0,"hi":0}
    ],
    "spikes": [
      {"tr":1,"t":14.4,"lo":0,"hi":0.079},{"tr":1,"t":24,"lo":0,"hi":0.075},{"tr":1,"t":43.2,"lo":0,"hi":0.129},{"tr":1,"t":52,"lo":0,"hi":0.129},{"tr":1,"t":57.6,"lo":0,"hi":0.102},{"tr":1,"t":62.4,"lo":0,"hi":0.132},{"tr":1,"t":71.2,"lo":0,"hi":0.132},{"tr":1,"t":80.8,"lo":0,"hi":0.132},{"tr":1,"t":90.4,"lo":0,"hi":0.134},{"tr":1,"t":100,"lo":0,"hi":0.139},
      {"tr":1,"t":108.8,"lo":0,"hi":0.121},{"tr":1,"t":118.4,"lo":0,"hi":0.12},{"tr":1,"t":122.4,"lo":0,"hi":0.089},{"tr":1,"t":128.8,"lo":0,"hi":0.136},{"tr":1,"t":137.6,"lo":0,"hi":0.121},{"tr":1,"t":147.2,"lo":0,"hi":0.123},{"tr":1,"t":156.8,"lo":0,"hi":0.129},{"tr":1,"t":165.6,"lo":0,"hi":0.134},{"tr":1,"t":175.2,"lo":0,"hi":0.139},{"tr":1,"t":184.8,"lo":0,"hi":0.1375},
      {"tr":1,"t":194.4,"lo":0,"hi":0.139},{"tr":1,"t":204,"lo":0,"hi":0.141},{"tr":1,"t":213.6,"lo":0,"hi":0.132},{"tr":1,"t":223.2,"lo":0,"hi":0.132},{"tr":1,"t":241.6,"lo":0,"hi":0.134},{"tr":1,"t":251.2,"lo":0,"hi":0.1375},{"tr":1,"t":260.8,"lo":0,"hi":0.1375},{"tr":1,"t":270.4,"lo":0,"hi":0.141},{"tr":1,"t":279.2,"lo":0,"hi":0.136},{"tr":1,"t":288,"lo":0,"hi":0.139},
      {"tr":1,"t":297.6,"lo":0,"hi":0.089},{"tr":1,"t":308,"lo":0,"hi":0.146},{"tr":1,"t":316.8,"lo":0,"hi":0.118},{"tr":1,"t":327.2,"lo":0,"hi":0.118},{"tr":1,"t":336,"lo":0,"hi":0.143},{"tr":1,"t":345.6,"lo":0,"hi":0.136},{"tr":1,"t":355.2,"lo":0,"hi":0.132},{"tr":1,"t":364.8,"lo":0,"hi":0.123},{"tr":1,"t":368.8,"lo":0,"hi":0.105},{"tr":1,"t":373.6,"lo":0,"hi":0.134},
      {"tr":1,"t":402.4,"lo":0,"hi":0.1375},{"tr":1,"t":412,"lo":0,"hi":0.132},{"tr":1,"t":421.6,"lo":0,"hi":0.125},{"tr":1,"t":426.4,"lo":0,"hi":0.102},{"tr":1,"t":430.4,"lo":0,"hi":0.134},{"tr":1,"t":440,"lo":0,"hi":0.129},{"tr":1,"t":442.4,"lo":0,"hi":0.075},{"tr":1,"t":446.4,"lo":0,"hi":0.066},{"tr":1,"t":449.6,"lo":0,"hi":0.132},{"tr":1,"t":458.4,"lo":0,"hi":0.13},
      {"tr":1,"t":477.6,"lo":0,"hi":0.096},{"tr":1,"t":487.2,"lo":0,"hi":0.132},{"tr":1,"t":496.8,"lo":0,"hi":0.127},{"tr":1,"t":504,"lo":0,"hi":0.107},{"tr":1,"t":506.4,"lo":0,"hi":0.132},{"tr":1,"t":511.2,"lo":0,"hi":0.043},{"tr":1,"t":515.2,"lo":0,"hi":0.118},{"tr":1,"t":519.2,"lo":0,"hi":0.043},{"tr":1,"t":525.6,"lo":0,"hi":0.136},{"tr":1,"t":535.2,"lo":0,"hi":0.111},
      {"tr":1,"t":544,"lo":-0.001,"hi":0.13},{"tr":1,"t":572.8,"lo":-0.003,"hi":0.125},{"tr":1,"t":582.4,"lo":-0.004,"hi":0.127},{"tr":1,"t":592,"lo":-0.003,"hi":0.125},{"tr":1,"t":596.8,"lo":-0.003,"hi":0.107},{"tr":1,"t":600.8,"lo":-0.004,"hi":0.13},{"tr":1,"t":610.4,"lo":-0.005,"hi":0.086},{"tr":1,"t":613.6,"lo":-0.005,"hi":0.043},{"tr":1,"t":615.2,"lo":-0.005,"hi":0.045},{"tr":1,"t":620,"lo":-0.005,"hi":0.107},
      {"tr":1,"t":629.6,"lo":-0.006,"hi":0.12},{"tr":1,"t":634.4,"lo":-0.007,"hi":0.086},{"tr":1,"t":639.2,"lo":-0.007,"hi":0.129},{"tr":1,"t":648.8,"lo":-0.007,"hi":0.114},{"tr":1,"t":667.2,"lo":-0.008,"hi":0.12},{"tr":1,"t":676.8,"lo":-0.009,"hi":0.123},{"tr":1,"t":681.6,"lo":-0.009,"hi":0.061},{"tr":1,"t":686.4,"lo":-0.009,"hi":0.12},{"tr":1,"t":695.2,"lo":-0.01,"hi":0.118},{"tr":1,"t":705.6,"lo":-0.011,"hi":0.118},
      {"tr":1,"t":714.4,"lo":-0.012,"hi":0.111},{"tr":1,"t":724,"lo":-0.012,"hi":0.129},{"tr":1,"t":733.6,"lo":-0.013,"hi":0.12},{"tr":1,"t":742.4,"lo":-0.014,"hi":0.086},{"tr":1,"t":752,"lo":-0.015,"hi":0.116},{"tr":1,"t":757.6,"lo":-0.015,"hi":0.084},{"tr":1,"t":761.6,"lo":-0.016,"hi":0.125},{"tr":1,"t":770.4,"lo":-0.016,"hi":0.118},{"tr":1,"t":774.4,"lo":-0.016,"hi":0.07},{"tr":1,"t":776.8,"lo":-0.016,"hi":0.07},
      {"tr":1,"t":780.8,"lo":-0.017,"hi":0.114},{"tr":1,"t":793.6,"lo":-0.017,"hi":0.096},{"tr":1,"t":799.2,"lo":-0.018,"hi":0.093},{"tr":1,"t":818.4,"lo":-0.018,"hi":0.105},{"tr":1,"t":828,"lo":-0.017,"hi":0.104},{"tr":1,"t":837.6,"lo":-0.017,"hi":0.12},{"tr":1,"t":841.6,"lo":-0.017,"hi":0.07},{"tr":1,"t":846.4,"lo":-0.017,"hi":0.114},

      {"tr":2,"t":19.2,"lo":0,"hi":0.13},{"tr":2,"t":29.6,"lo":0,"hi":0.123},{"tr":2,"t":31.2,"lo":0,"hi":0.105},{"tr":2,"t":40,"lo":0,"hi":0.136},{"tr":2,"t":48,"lo":0,"hi":0.055},{"tr":2,"t":50.4,"lo":0,"hi":0.123},{"tr":2,"t":61.6,"lo":0,"hi":0.1125},{"tr":2,"t":68.8,"lo":0,"hi":0.1125},{"tr":2,"t":72.8,"lo":0,"hi":0.136},{"tr":2,"t":93.6,"lo":0,"hi":0.136},
      {"tr":2,"t":103.2,"lo":0,"hi":0.13},{"tr":2,"t":114.4,"lo":0,"hi":0.136},{"tr":2,"t":124.8,"lo":0,"hi":0.123},{"tr":2,"t":135.2,"lo":0,"hi":0.127},{"tr":2,"t":145.6,"lo":0,"hi":0.139},{"tr":2,"t":156.8,"lo":0,"hi":0.13},{"tr":2,"t":177.6,"lo":0,"hi":0.143},{"tr":2,"t":198.4,"lo":0,"hi":0.129},{"tr":2,"t":208.8,"lo":0,"hi":0.129},{"tr":2,"t":219.2,"lo":0,"hi":0.121},
      {"tr":2,"t":229.6,"lo":0,"hi":0.13},{"tr":2,"t":240.8,"lo":0,"hi":0.127},{"tr":2,"t":251.2,"lo":0,"hi":0.136},{"tr":2,"t":261.6,"lo":0,"hi":0.109},{"tr":2,"t":272,"lo":0,"hi":0.132},{"tr":2,"t":293.6,"lo":0,"hi":0.127},{"tr":2,"t":304,"lo":0,"hi":0.13},{"tr":2,"t":314.4,"lo":0,"hi":0.123},{"tr":2,"t":325.6,"lo":0,"hi":0.132},{"tr":2,"t":336,"lo":0,"hi":0.125},
      {"tr":2,"t":346.4,"lo":0,"hi":0.118},{"tr":2,"t":356.8,"lo":0,"hi":0.127},{"tr":2,"t":388,"lo":0,"hi":0.127},{"tr":2,"t":398.4,"lo":0,"hi":0.125},{"tr":2,"t":408.8,"lo":0,"hi":0.129},{"tr":2,"t":420,"lo":0,"hi":0.123},{"tr":2,"t":430.4,"lo":0,"hi":0.121},{"tr":2,"t":440.8,"lo":0,"hi":0.123},{"tr":2,"t":448.8,"lo":0,"hi":0.1},{"tr":2,"t":451.2,"lo":0,"hi":0.134},
      {"tr":2,"t":461.6,"lo":0,"hi":0.127},{"tr":2,"t":472.8,"lo":0,"hi":0.125},{"tr":2,"t":482.4,"lo":0,"hi":0.111},{"tr":2,"t":493.6,"lo":0,"hi":0.123},{"tr":2,"t":504.8,"lo":0,"hi":0.114},{"tr":2,"t":514.4,"lo":0,"hi":0.13},{"tr":2,"t":525.6,"lo":0,"hi":0.104},{"tr":2,"t":526.4,"lo":0,"hi":0.121},{"tr":2,"t":536,"lo":0,"hi":0.13},{"tr":2,"t":546.4,"lo":0,"hi":0.123},
      {"tr":2,"t":577.6,"lo":0,"hi":0.13},{"tr":2,"t":588.8,"lo":0,"hi":0.129},{"tr":2,"t":599.2,"lo":0,"hi":0.129},{"tr":2,"t":609.6,"lo":0,"hi":0.127},{"tr":2,"t":620,"lo":0,"hi":0.129},{"tr":2,"t":630.4,"lo":0,"hi":0.13},{"tr":2,"t":641.6,"lo":0,"hi":0.096},{"tr":2,"t":651.2,"lo":0,"hi":0.118},{"tr":2,"t":662.4,"lo":0,"hi":0.121},{"tr":2,"t":672.8,"lo":0,"hi":0.134},
      {"tr":2,"t":683.2,"lo":0,"hi":0.132},{"tr":2,"t":693.6,"lo":0,"hi":0.127},{"tr":2,"t":704.8,"lo":0,"hi":0.127},{"tr":2,"t":714.4,"lo":0,"hi":0.13},{"tr":2,"t":725.6,"lo":0,"hi":0.139},{"tr":2,"t":736,"lo":0,"hi":0.123},{"tr":2,"t":746.4,"lo":0,"hi":0.134},{"tr":2,"t":756.8,"lo":0,"hi":0.136},{"tr":2,"t":767.2,"lo":0,"hi":0.145},{"tr":2,"t":778.4,"lo":0,"hi":0.105},
      {"tr":2,"t":788.8,"lo":0,"hi":0.13},{"tr":2,"t":799.2,"lo":0,"hi":0.127},{"tr":2,"t":809.6,"lo":0,"hi":0.136},{"tr":2,"t":831.2,"lo":0,"hi":0.127},{"tr":2,"t":841.6,"lo":0,"hi":0.13},

      {"tr":3,"t":14.4,"lo":0,"hi":0.114},{"tr":3,"t":16.8,"lo":0,"hi":0.096},{"tr":3,"t":25.6,"lo":0,"hi":0.127},{"tr":3,"t":37.6,"lo":0,"hi":0.129},{"tr":3,"t":49.6,"lo":0,"hi":0.1375},{"tr":3,"t":61.6,"lo":0,"hi":0.096},{"tr":3,"t":72.8,"lo":0,"hi":0.123},{"tr":3,"t":84,"lo":0,"hi":0.118},{"tr":3,"t":94.4,"lo":0,"hi":0.129},{"tr":3,"t":96,"lo":0,"hi":0.111},
      {"tr":3,"t":106.4,"lo":0,"hi":0.13},{"tr":3,"t":117.6,"lo":0,"hi":0.12},{"tr":3,"t":129.6,"lo":0,"hi":0.125},{"tr":3,"t":140.8,"lo":0,"hi":0.132},{"tr":3,"t":145.6,"lo":0,"hi":0.111},{"tr":3,"t":175.2,"lo":0,"hi":0.13},{"tr":3,"t":186.4,"lo":0,"hi":0.12},{"tr":3,"t":198.4,"lo":0,"hi":0.136},{"tr":3,"t":232.8,"lo":0,"hi":0.143},{"tr":3,"t":244,"lo":0,"hi":0.132},
      {"tr":3,"t":256,"lo":0,"hi":0.129},{"tr":3,"t":266.4,"lo":0,"hi":0.127},{"tr":3,"t":278.4,"lo":0,"hi":0.136},{"tr":3,"t":290.4,"lo":0,"hi":0.129},{"tr":3,"t":301.6,"lo":0,"hi":0.132},{"tr":3,"t":312.8,"lo":0,"hi":0.1375},{"tr":3,"t":324.8,"lo":0,"hi":0.13},{"tr":3,"t":336,"lo":0,"hi":0.123},{"tr":3,"t":347.2,"lo":0,"hi":0.114},{"tr":3,"t":358.4,"lo":0,"hi":0.139},
      {"tr":3,"t":370.4,"lo":0,"hi":0.136},{"tr":3,"t":381.6,"lo":0,"hi":0.114},{"tr":3,"t":393.6,"lo":0,"hi":0.139},{"tr":3,"t":404,"lo":0,"hi":0.118},{"tr":3,"t":416.8,"lo":0,"hi":0.139},{"tr":3,"t":427.2,"lo":0,"hi":0.1375},{"tr":3,"t":439.2,"lo":0,"hi":0.145},{"tr":3,"t":450.4,"lo":0,"hi":0.139},{"tr":3,"t":462.4,"lo":0,"hi":0.155},{"tr":3,"t":473.6,"lo":0,"hi":0.139},
      {"tr":3,"t":485.6,"lo":0,"hi":0.141},{"tr":3,"t":491.2,"lo":0,"hi":0.089},{"tr":3,"t":493.6,"lo":0,"hi":0.102},{"tr":3,"t":496,"lo":0,"hi":0.1375},{"tr":3,"t":507.2,"lo":0,"hi":0.136},{"tr":3,"t":508.8,"lo":0,"hi":0.104},{"tr":3,"t":519.2,"lo":0,"hi":0.139},{"tr":3,"t":530.4,"lo":0,"hi":0.1375},{"tr":3,"t":542.4,"lo":0,"hi":0.13},{"tr":3,"t":576.8,"lo":0,"hi":0.1375},
      {"tr":3,"t":588,"lo":0,"hi":0.129},{"tr":3,"t":599.2,"lo":0,"hi":0.139},{"tr":3,"t":611.2,"lo":0,"hi":0.1375},{"tr":3,"t":622.4,"lo":0,"hi":0.139},{"tr":3,"t":633.6,"lo":0,"hi":0.136},{"tr":3,"t":645.6,"lo":0,"hi":0.139},{"tr":3,"t":656.8,"lo":0,"hi":0.148},{"tr":3,"t":668,"lo":0,"hi":0.152},{"tr":3,"t":680,"lo":0,"hi":0.155},{"tr":3,"t":691.2,"lo":0,"hi":0.152},
      {"tr":3,"t":702.4,"lo":0,"hi":0.157},{"tr":3,"t":714.4,"lo":0,"hi":0.159},{"tr":3,"t":725.6,"lo":0,"hi":0.161},{"tr":3,"t":737.6,"lo":0,"hi":0.159},{"tr":3,"t":748.8,"lo":0,"hi":0.155},{"tr":3,"t":760,"lo":0,"hi":0.154},{"tr":3,"t":771.2,"lo":0,"hi":0.148},{"tr":3,"t":783.2,"lo":0,"hi":0.155},{"tr":3,"t":794.4,"lo":0,"hi":0.152},{"tr":3,"t":805.6,"lo":0,"hi":0.157},
      {"tr":3,"t":817.6,"lo":0,"hi":0.152},{"tr":3,"t":829.6,"lo":0,"hi":0.155},{"tr":3,"t":840,"lo":0,"hi":0.152}
    ],
    "timeMarks": [
      {"t":36.8},{"t":70.4},{"t":105.6},{"t":139.2},{"t":173.6},{"t":207.2},{"t":241.6},{"t":275.2},{"t":309.6},{"t":344},{"t":378.4},{"t":412},
      {"t":446.4},{"t":480},{"t":514.4},{"t":548},{"t":582.4},{"t":616.8},{"t":650.4},{"t":684.8},{"t":718.4},{"t":752.8},{"t":787.2},{"t":821.6}
    ]
  },
  "vconcat": [
    {
      "width": 1060,
      "height": 160,
      "layer": [
        {"data": {"name": "bursts"}, "transform": [{"filter": "datum.tr == 1"}],
         "mark": {"type": "area", "color": "#000"},
         "encoding": {
           "x": {"field": "t", "type": "quantitative", "scale": {"domain": [0, 848], "nice": false, "zero": false}, "axis": null},
           "y": {"field": "hi", "type": "quantitative", "scale": {"domain": [-0.1304, 0.1554], "nice": false, "zero": false}, "axis": null},
           "y2": {"field": "lo"},
           "detail": {"field": "id"}}},
        {"data": {"name": "bursts"}, "transform": [{"filter": "datum.tr == 1"}],
         "mark": {"type": "line", "color": "#000", "strokeWidth": 3, "strokeDash": [1, 1.4], "strokeJoin": "round", "opacity": 0.7},
         "encoding": {
           "x": {"field": "t", "type": "quantitative", "scale": {"domain": [0, 848], "nice": false, "zero": false}, "axis": null},
           "y": {"field": "hi", "type": "quantitative", "scale": {"domain": [-0.1304, 0.1554], "nice": false, "zero": false}, "axis": null},
           "detail": {"field": "id"}}},
        {"data": {"name": "baseline"}, "transform": [{"filter": "datum.tr == 1"}],
         "mark": {"type": "line", "color": "#000", "strokeWidth": 4, "strokeJoin": "round"},
         "encoding": {
           "x": {"field": "t", "type": "quantitative", "scale": {"domain": [0, 848], "nice": false, "zero": false}, "axis": null},
           "y": {"field": "v", "type": "quantitative", "scale": {"domain": [-0.1304, 0.1554], "nice": false, "zero": false}, "axis": null}}},
        {"data": {"name": "baseline"}, "transform": [{"filter": "datum.tr == 1"}],
         "mark": {"type": "line", "color": "#000", "strokeWidth": 9, "strokeDash": [1, 1.6], "strokeJoin": "round", "opacity": 0.7},
         "encoding": {
           "x": {"field": "t", "type": "quantitative", "scale": {"domain": [0, 848], "nice": false, "zero": false}, "axis": null},
           "y": {"field": "v", "type": "quantitative", "scale": {"domain": [-0.1304, 0.1554], "nice": false, "zero": false}, "axis": null}}},
        {"data": {"name": "spikes"}, "transform": [{"filter": "datum.tr == 1"}],
         "mark": {"type": "rule", "color": "#222", "strokeWidth": 1.2},
         "encoding": {
           "x": {"field": "t", "type": "quantitative", "scale": {"domain": [0, 848], "nice": false, "zero": false}, "axis": null},
           "y": {"field": "lo", "type": "quantitative", "scale": {"domain": [-0.1304, 0.1554], "nice": false, "zero": false}, "axis": null},
           "y2": {"field": "hi"}}},
        {"data": {"values": [{}]},
         "mark": {"type": "rule", "color": "#000", "strokeWidth": 5},
         "encoding": {
           "x": {"datum": 6.4, "type": "quantitative", "scale": {"domain": [0, 848], "nice": false, "zero": false}, "axis": null},
           "x2": {"datum": 846.4},
           "y": {"datum": -0.051, "type": "quantitative", "scale": {"domain": [-0.1304, 0.1554], "nice": false, "zero": false}, "axis": null}}},
        {"data": {"values": [{}]},
         "mark": {"type": "rule", "color": "#fff", "strokeWidth": 1, "strokeDash": [2, 1.5], "opacity": 0.45},
         "encoding": {
           "x": {"datum": 6.4, "type": "quantitative", "scale": {"domain": [0, 848], "nice": false, "zero": false}, "axis": null},
           "x2": {"datum": 846.4},
           "y": {"datum": -0.051, "type": "quantitative", "scale": {"domain": [-0.1304, 0.1554], "nice": false, "zero": false}, "axis": null}}},
        {"data": {"name": "timeMarks"},
         "mark": {"type": "rule", "color": "#fff", "strokeWidth": 1},
         "encoding": {
           "x": {"field": "t", "type": "quantitative", "scale": {"domain": [0, 848], "nice": false, "zero": false}, "axis": null},
           "y": {"datum": -0.0465, "type": "quantitative", "scale": {"domain": [-0.1304, 0.1554], "nice": false, "zero": false}, "axis": null},
           "y2": {"datum": -0.0555}}},
        {"data": {"values": [{}]},
         "mark": {"type": "text", "font": "Liberation Serif", "fontWeight": "bold", "fontSize": 23, "color": "#000", "align": "center", "baseline": "middle", "text": "NA 100 µM"},
         "encoding": {
           "x": {"datum": 425, "type": "quantitative", "scale": {"domain": [0, 848], "nice": false, "zero": false}, "axis": null},
           "y": {"datum": -0.0946, "type": "quantitative", "scale": {"domain": [-0.1304, 0.1554], "nice": false, "zero": false}, "axis": null}}}
      ]
    },
    {
      "width": 1060,
      "height": 230,
      "layer": [
        {"data": {"name": "bursts"}, "transform": [{"filter": "datum.tr == 2"}],
         "mark": {"type": "area", "color": "#000"},
         "encoding": {
           "x": {"field": "t", "type": "quantitative", "scale": {"domain": [0, 848], "nice": false, "zero": false}, "axis": null},
           "y": {"field": "hi", "type": "quantitative", "scale": {"domain": [-0.2214, 0.1893], "nice": false, "zero": false}, "axis": null},
           "y2": {"field": "lo"},
           "detail": {"field": "id"}}},
        {"data": {"name": "bursts"}, "transform": [{"filter": "datum.tr == 2"}],
         "mark": {"type": "line", "color": "#000", "strokeWidth": 3, "strokeDash": [1, 1.4], "strokeJoin": "round", "opacity": 0.7},
         "encoding": {
           "x": {"field": "t", "type": "quantitative", "scale": {"domain": [0, 848], "nice": false, "zero": false}, "axis": null},
           "y": {"field": "hi", "type": "quantitative", "scale": {"domain": [-0.2214, 0.1893], "nice": false, "zero": false}, "axis": null},
           "detail": {"field": "id"}}},
        {"data": {"name": "baseline"}, "transform": [{"filter": "datum.tr == 2"}],
         "mark": {"type": "line", "color": "#000", "strokeWidth": 4, "strokeJoin": "round"},
         "encoding": {
           "x": {"field": "t", "type": "quantitative", "scale": {"domain": [0, 848], "nice": false, "zero": false}, "axis": null},
           "y": {"field": "v", "type": "quantitative", "scale": {"domain": [-0.2214, 0.1893], "nice": false, "zero": false}, "axis": null}}},
        {"data": {"name": "baseline"}, "transform": [{"filter": "datum.tr == 2"}],
         "mark": {"type": "line", "color": "#000", "strokeWidth": 9, "strokeDash": [1, 1.6], "strokeJoin": "round", "opacity": 0.7},
         "encoding": {
           "x": {"field": "t", "type": "quantitative", "scale": {"domain": [0, 848], "nice": false, "zero": false}, "axis": null},
           "y": {"field": "v", "type": "quantitative", "scale": {"domain": [-0.2214, 0.1893], "nice": false, "zero": false}, "axis": null}}},
        {"data": {"name": "spikes"}, "transform": [{"filter": "datum.tr == 2"}],
         "mark": {"type": "rule", "color": "#222", "strokeWidth": 1.2},
         "encoding": {
           "x": {"field": "t", "type": "quantitative", "scale": {"domain": [0, 848], "nice": false, "zero": false}, "axis": null},
           "y": {"field": "lo", "type": "quantitative", "scale": {"domain": [-0.2214, 0.1893], "nice": false, "zero": false}, "axis": null},
           "y2": {"field": "hi"}}},
        {"data": {"values": [{}]},
         "mark": {"type": "rule", "color": "#000", "strokeWidth": 5},
         "encoding": {
           "x": {"datum": 9.6, "type": "quantitative", "scale": {"domain": [0, 848], "nice": false, "zero": false}, "axis": null},
           "x2": {"datum": 846.4},
           "y": {"datum": -0.0705, "type": "quantitative", "scale": {"domain": [-0.2214, 0.1893], "nice": false, "zero": false}, "axis": null}}},
        {"data": {"values": [{}]},
         "mark": {"type": "text", "font": "Liberation Serif", "fontWeight": "bold", "fontSize": 23, "color": "#000", "align": "center", "baseline": "middle", "text": "NA 100 µM + Carbachol\u00a0 1 µM"},
         "encoding": {
           "x": {"datum": 427, "type": "quantitative", "scale": {"domain": [0, 848], "nice": false, "zero": false}, "axis": null},
           "y": {"datum": -0.114, "type": "quantitative", "scale": {"domain": [-0.2214, 0.1893], "nice": false, "zero": false}, "axis": null}}}
      ]
    },
    {
      "width": 1060,
      "height": 190,
      "layer": [
        {"data": {"name": "bursts"}, "transform": [{"filter": "datum.tr == 3"}],
         "mark": {"type": "area", "color": "#000"},
         "encoding": {
           "x": {"field": "t", "type": "quantitative", "scale": {"domain": [0, 848], "nice": false, "zero": false}, "axis": null},
           "y": {"field": "hi", "type": "quantitative", "scale": {"domain": [-0.1339, 0.2054], "nice": false, "zero": false}, "axis": null},
           "y2": {"field": "lo"},
           "detail": {"field": "id"}}},
        {"data": {"name": "bursts"}, "transform": [{"filter": "datum.tr == 3"}],
         "mark": {"type": "line", "color": "#000", "strokeWidth": 3, "strokeDash": [1, 1.4], "strokeJoin": "round", "opacity": 0.7},
         "encoding": {
           "x": {"field": "t", "type": "quantitative", "scale": {"domain": [0, 848], "nice": false, "zero": false}, "axis": null},
           "y": {"field": "hi", "type": "quantitative", "scale": {"domain": [-0.1339, 0.2054], "nice": false, "zero": false}, "axis": null},
           "detail": {"field": "id"}}},
        {"data": {"name": "baseline"}, "transform": [{"filter": "datum.tr == 3"}],
         "mark": {"type": "line", "color": "#000", "strokeWidth": 4, "strokeJoin": "round"},
         "encoding": {
           "x": {"field": "t", "type": "quantitative", "scale": {"domain": [0, 848], "nice": false, "zero": false}, "axis": null},
           "y": {"field": "v", "type": "quantitative", "scale": {"domain": [-0.1339, 0.2054], "nice": false, "zero": false}, "axis": null}}},
        {"data": {"name": "baseline"}, "transform": [{"filter": "datum.tr == 3"}],
         "mark": {"type": "line", "color": "#000", "strokeWidth": 9, "strokeDash": [1, 1.6], "strokeJoin": "round", "opacity": 0.7},
         "encoding": {
           "x": {"field": "t", "type": "quantitative", "scale": {"domain": [0, 848], "nice": false, "zero": false}, "axis": null},
           "y": {"field": "v", "type": "quantitative", "scale": {"domain": [-0.1339, 0.2054], "nice": false, "zero": false}, "axis": null}}},
        {"data": {"name": "spikes"}, "transform": [{"filter": "datum.tr == 3"}],
         "mark": {"type": "rule", "color": "#222", "strokeWidth": 1.2},
         "encoding": {
           "x": {"field": "t", "type": "quantitative", "scale": {"domain": [0, 848], "nice": false, "zero": false}, "axis": null},
           "y": {"field": "lo", "type": "quantitative", "scale": {"domain": [-0.1339, 0.2054], "nice": false, "zero": false}, "axis": null},
           "y2": {"field": "hi"}}},
        {"data": {"values": [{}]},
         "mark": {"type": "rule", "color": "#000", "strokeWidth": 5},
         "encoding": {
           "x": {"datum": 8, "type": "quantitative", "scale": {"domain": [0, 848], "nice": false, "zero": false}, "axis": null},
           "x2": {"datum": 846.4},
           "y": {"datum": -0.044, "type": "quantitative", "scale": {"domain": [-0.1339, 0.2054], "nice": false, "zero": false}, "axis": null}}},
        {"data": {"values": [{}]},
         "mark": {"type": "text", "font": "Liberation Serif", "fontWeight": "bold", "fontSize": 23, "color": "#000", "align": "center", "baseline": "middle", "text": "NA 100 µM + Carbachol\u00a0 10 µM"},
         "encoding": {
           "x": {"datum": 427, "type": "quantitative", "scale": {"domain": [0, 848], "nice": false, "zero": false}, "axis": null},
           "y": {"datum": -0.091, "type": "quantitative", "scale": {"domain": [-0.1339, 0.2054], "nice": false, "zero": false}, "axis": null}}}
      ]
    },
    {
      "width": 1060,
      "height": 108,
      "layer": [
        {"data": {"values": [{}]},
         "mark": {"type": "rule", "color": "#333", "strokeWidth": 1.5},
         "encoding": {
           "x": {"datum": 66.4, "type": "quantitative", "scale": {"domain": [0, 848], "nice": false, "zero": false}, "axis": null},
           "y": {"datum": 0, "type": "quantitative", "scale": {"domain": [-0.0696, 0.1232], "nice": false, "zero": false}, "axis": null},
           "y2": {"datum": 0.1}}},
        {"data": {"values": [{}]},
         "mark": {"type": "rule", "color": "#333", "strokeWidth": 1.5},
         "encoding": {
           "x": {"datum": 66.4, "type": "quantitative", "scale": {"domain": [0, 848], "nice": false, "zero": false}, "axis": null},
           "x2": {"datum": 126.4},
           "y": {"datum": 0, "type": "quantitative", "scale": {"domain": [-0.0696, 0.1232], "nice": false, "zero": false}, "axis": null}}},
        {"data": {"values": [{}]},
         "mark": {"type": "text", "font": "Liberation Serif", "fontSize": 21, "color": "#222", "align": "center", "baseline": "middle", "text": "0.1 g"},
         "encoding": {
           "x": {"datum": 32.4, "type": "quantitative", "scale": {"domain": [0, 848], "nice": false, "zero": false}, "axis": null},
           "y": {"datum": 0.046, "type": "quantitative", "scale": {"domain": [-0.0696, 0.1232], "nice": false, "zero": false}, "axis": null}}},
        {"data": {"values": [{}]},
         "mark": {"type": "text", "font": "Liberation Serif", "fontSize": 21, "color": "#222", "align": "center", "baseline": "middle", "text": "60 sec"},
         "encoding": {
           "x": {"datum": 96.4, "type": "quantitative", "scale": {"domain": [0, 848], "nice": false, "zero": false}, "axis": null},
           "y": {"datum": -0.052, "type": "quantitative", "scale": {"domain": [-0.0696, 0.1232], "nice": false, "zero": false}, "axis": null}}}
      ]
    }
  ]
}
